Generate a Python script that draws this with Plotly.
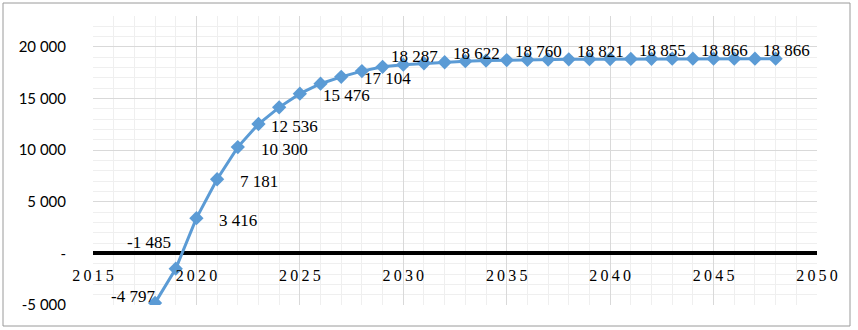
import plotly.graph_objects as go

years = list(range(2018, 2049))
values = [-4797, -1485, 3416, 7181, 10300, 12536, 14150, 15476, 16440, 17104,
          17660, 18080, 18287, 18420, 18520, 18622, 18680, 18725, 18760, 18785,
          18805, 18821, 18835, 18846, 18855, 18861, 18864, 18866, 18866, 18866, 18866]

label_years = [2018, 2019, 2020, 2021, 2022, 2023, 2025, 2027, 2030, 2033, 2036, 2039, 2042, 2045, 2048]
label_texts = ["-4 797", "-1 485", "3 416", "7 181", "10 300", "12 536", "15 476", "17 104",
               "18 287", "18 622", "18 760", "18 821", "18 855", "18 866", "18 866"]

x_tickvals = [2015, 2020, 2025, 2030, 2035, 2040, 2045, 2050]
x_ticktext = ["2\u20090\u20091\u20095", "2\u20090\u20092\u20090", "2\u20090\u20092\u20095", "2\u20090\u20093\u20090",
              "2\u20090\u20093\u20095", "2\u20090\u20094\u20090", "2\u20090\u20094\u20095", "2\u20090\u20095\u20090"]
y_tickvals = [-5000, 0, 5000, 10000, 15000, 20000]
y_ticktext = ["-5 000", "-", "5 000", "10 000", "15 000", "20 000"]

# label placement styles (not data)
label_style = {
    2018: dict(xanchor="right", yanchor="middle", xshift=2, yshift=6),
    2019: dict(xanchor="right", yanchor="middle", xshift=-3, yshift=26),
    2023: dict(xanchor="left", yanchor="middle", xshift=11, yshift=-2),
}
default_right = dict(xanchor="left", yanchor="middle", xshift=21, yshift=-2)
default_top = dict(xanchor="center", yanchor="middle", xshift=11, yshift=8)

W, H = 858, 330
ml, mr, mt, mb = 93, 41, 16, 25
ymin, ymax = -5000, 23000

fig = go.Figure()
fig.add_trace(go.Scatter(
    x=years, y=values, mode="lines+markers",
    line=dict(color="#5B9BD5", width=3),
    marker=dict(symbol="diamond", size=11, color="#5B9BD5"),
    showlegend=False, hoverinfo="skip",
))

val_of = dict(zip(years, values))
for yr, txt in zip(label_years, label_texts):
    if yr in label_style:
        st = label_style[yr]
    elif yr <= 2028:
        st = default_right
    else:
        st = default_top
    fig.add_annotation(x=yr, y=val_of[yr], text=txt, showarrow=False,
                       font=dict(family="Liberation Serif", size=17, color="#000000"),
                       **st)

pw = W - ml - mr
ph = H - mt - mb
bx0, bx1, by0, by1 = 3, 850, 3, 326
fig.add_shape(type="rect", xref="paper", yref="paper",
              x0=(bx0 - ml) / pw, x1=(bx1 - ml) / pw,
              y0=(H - mb - by1) / ph, y1=(H - mb - by0) / ph,
              line=dict(color="#9a9a9a", width=1), fillcolor="rgba(0,0,0,0)", layer="below")

fig.update_layout(
    width=W, height=H,
    margin=dict(l=ml, r=mr, t=mt, b=mb),
    paper_bgcolor="white", plot_bgcolor="white",
    xaxis=dict(
        range=[2015, 2050], tickvals=x_tickvals, ticktext=x_ticktext,
        showgrid=True, gridcolor="#d9d9d9", gridwidth=1,
        minor=dict(dtick=1, tick0=2015, showgrid=True, gridcolor="#efefef", gridwidth=1),
        zeroline=False, showline=False, ticks="",
        anchor="free", position=(0 - ymin) / (ymax - ymin),
        tickfont=dict(family="Liberation Serif", size=16, color="#000000"),
        ticklabelstandoff=11,
    ),
    yaxis=dict(
        range=[ymin, ymax], tickvals=y_tickvals, ticktext=y_ticktext,
        showgrid=True, gridcolor="#d9d9d9", gridwidth=1,
        minor=dict(dtick=1000, tick0=0, showgrid=True, gridcolor="#efefef", gridwidth=1),
        zeroline=True, zerolinecolor="#000000", zerolinewidth=4,
        showline=False, ticks="",
        tickfont=dict(family="Lato", size=15, color="#000000"),
        ticklabelstandoff=26,
    ),
)

fig.write_html("out.html", config={"displayModeBar": False},
               post_script="document.body.style.margin='0';")
